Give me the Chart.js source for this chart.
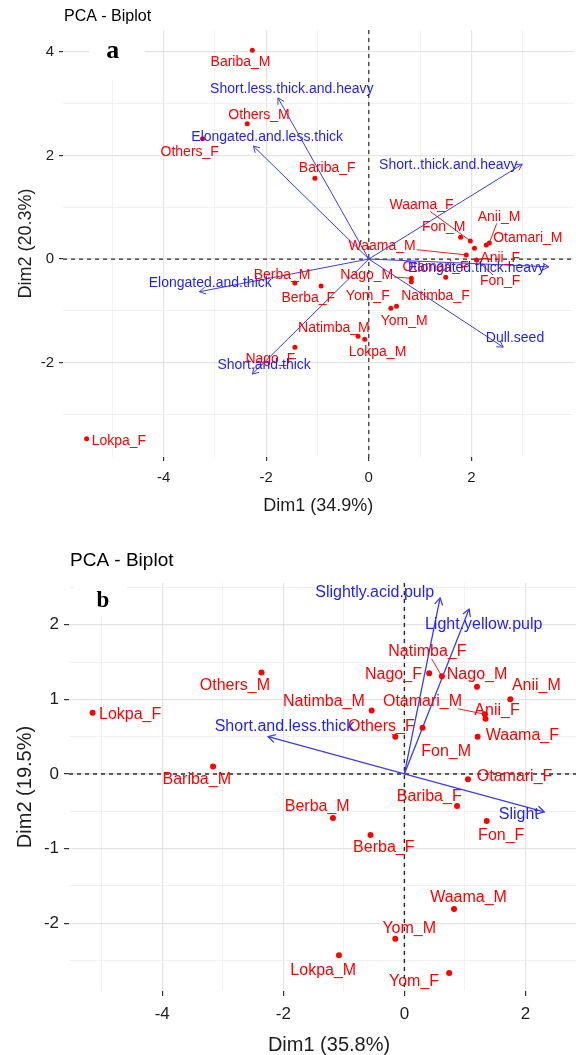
<!DOCTYPE html>
<html>
<head>
<meta charset="utf-8">
<script src="https://cdn.jsdelivr.net/npm/chart.js@4.4.1/dist/chart.umd.min.js"></script>
<style>
  html, body { margin: 0; padding: 0; background: #fff; overflow: hidden; width: 576px; height: 1055px; }
  #ca { position: absolute; left: 0; top: 0; }
  #cb { position: absolute; left: 0; top: 520px; }
</style>
</head>
<body>
<canvas id="ca" width="576" height="520"></canvas>
<canvas id="cb" width="594" height="535"></canvas>
<script>
// ---- panel a : seed traits ----
const indA = ['Bariba_M','Others_M','Others_F','Bariba_F','Waama_F','Fon_M','Anii_M','Otamari_M','Anii_F','Waama_M','Fon_F','Otamari_F','Nago_M','Natimba_F','Berba_M','Berba_F','Yom_F','Yom_M','Natimba_M','Lokpa_M','Nago_F','Lokpa_F'];
const dim1A = [-2.27,-2.37,-3.24,-1.05,1.98,1.79,2.35,2.29,2.06,1.90,2.10,1.50,0.83,0.83,-1.44,-0.93,0.43,0.54,-0.21,-0.08,-1.44,-5.50];
const dim2A = [4.03,2.61,2.32,1.56,0.35,0.42,0.31,0.27,0.21,0.08,-0.02,-0.35,-0.37,-0.44,-0.46,-0.52,-0.95,-0.91,-1.49,-1.55,-1.70,-3.47];
const labXA = [-2.50,-2.14,-3.49,-0.81,1.03,1.46,2.54,3.10,2.56,0.26,2.56,1.30,-0.04,1.30,-1.69,-1.18,-0.02,0.69,-0.68,0.17,-1.92,-4.87];
const labYA = [3.80,2.78,2.07,1.75,1.04,0.62,0.81,0.40,0.02,0.25,-0.43,-0.15,-0.31,-0.71,-0.31,-0.75,-0.71,-1.20,-1.33,-1.80,-1.93,-3.51];
const segA = ['Waama_F','Anii_M','Waama_M','Nago_M','Fon_F'];
const varA = ['Short.less.thick.and.heavy','Elongated.and.less.thick','Short..thick.and.heavy','Elongated.and.thick','Elongated.thick.heavy','Dull.seed','Short.and.thick'];
const varXA = [-1.77,-2.25,2.99,-3.30,3.51,2.62,-2.27];
const varYA = [3.11,2.18,1.83,-0.63,-0.15,-1.70,-2.22];
const varLabXA = [-1.50,-1.98,1.55,-3.09,2.10,2.85,-2.04];
const varLabYA = [3.28,2.36,1.81,-0.46,-0.17,-1.52,-2.05];

// ---- panel b : pulp traits ----
const indB = ['Lokpa_F','Others_M','Bariba_M','Natimba_M','Others_F','Nago_F','Natimba_F','Nago_M','Anii_M','Otamari_M','Anii_F','Waama_F','Fon_M','Otamari_F','Bariba_F','Fon_F','Berba_M','Berba_F','Waama_M','Yom_M','Lokpa_M','Yom_F'];
const dim1B = [-5.15,-2.36,-3.16,-0.54,-0.15,0.41,0.62,1.20,1.75,1.33,1.34,1.21,0.30,1.05,0.87,1.36,-1.18,-0.56,0.82,-0.15,-1.08,0.74];
const dim2B = [0.82,1.36,0.10,0.85,0.50,1.35,1.31,1.17,1.00,0.80,0.74,0.50,0.62,-0.07,-0.43,-0.63,-0.59,-0.82,-1.81,-2.21,-2.43,-2.67];
const labXB = [-4.53,-2.80,-3.43,-1.33,-0.38,-0.18,0.38,1.20,2.18,0.30,1.53,1.95,0.69,1.82,0.41,1.60,-1.44,-0.34,1.06,0.08,-1.34,0.16];
const labYB = [0.80,1.18,-0.08,0.97,0.63,1.33,1.64,1.33,1.18,0.97,0.85,0.51,0.30,-0.03,-0.30,-0.82,-0.44,-0.99,-1.66,-2.07,-2.63,-2.78];
const segB = ['Natimba_F','Otamari_M','Others_F'];
const varB = ['Slightly.acid.pulp','Light.yellow.pulp','Short.and.less.thick','Slight'];
const varXB = [0.59,1.07,-2.25,2.31];
const varYB = [2.36,2.21,0.50,-0.51];
const varLabXB = [-0.49,1.31,-1.98,1.89];
const varLabYB = [2.43,2.00,0.63,-0.55];

const FONT = 'Arial, "Liberation Sans", sans-serif';
const RED = '#ff0000';
const BLUE = '#1f1fff';
const BLUE_LINE = '#3b3bff';
const INK = '#1e1e1e';

const isMajor = (v, step) => Math.abs(v / step - Math.round(v / step)) < 1e-6;

function arrowHead(ctx, x0, y0, x1, y1, len) {
  const ang = Math.atan2(y1 - y0, x1 - x0);
  ctx.beginPath();
  ctx.moveTo(x1 - len * Math.cos(ang - Math.PI / 6), y1 - len * Math.sin(ang - Math.PI / 6));
  ctx.lineTo(x1, y1);
  ctx.lineTo(x1 - len * Math.cos(ang + Math.PI / 6), y1 - len * Math.sin(ang + Math.PI / 6));
  ctx.stroke();
}

function makeBiplot(id, p) {
  const datasets = [{
    data: p.dim1.map((v, i) => ({x: v, y: p.dim2[i]})),
    backgroundColor: RED, borderColor: RED, borderWidth: 0,
    pointRadius: p.dot, pointHoverRadius: p.dot
  }];
  p.vars.forEach((name, i) => datasets.push({
    label: name, showLine: true,
    data: [{x: 0, y: 0}, {x: p.varX[i], y: p.varY[i]}],
    borderColor: BLUE_LINE, borderWidth: p.lw, pointRadius: 0
  }));

  const plugin = {
    id: 'biplot_' + id,
    beforeDatasetsDraw(chart) {
      const {ctx, chartArea: a, scales: {x, y}} = chart;
      ctx.save();
      // white patch behind the panel letter
      const lx = x.getPixelForValue(p.letterAt[0]), ly = y.getPixelForValue(p.letterAt[1]);
      const b = p.letterBox;
      const top = Math.max(a.top, ly + b[1]);
      ctx.fillStyle = '#fff';
      ctx.fillRect(lx + b[0], top, b[2] - b[0], ly + b[3] - top);
      // dashed zero lines
      const x0 = x.getPixelForValue(0), y0 = y.getPixelForValue(0);
      ctx.strokeStyle = '#2a2a2a';
      ctx.lineWidth = p.zeroW;
      ctx.setLineDash([4, 4]);
      ctx.beginPath();
      ctx.moveTo(a.left, y0); ctx.lineTo(a.right, y0);
      ctx.moveTo(x0, a.top); ctx.lineTo(x0, a.bottom);
      ctx.stroke();
      ctx.restore();
    },
    afterDatasetsDraw(chart) {
      const {ctx, chartArea: a, scales: {x, y}} = chart;
      ctx.save();
      // arrow heads
      const x0 = x.getPixelForValue(0), y0 = y.getPixelForValue(0);
      ctx.strokeStyle = BLUE_LINE;
      ctx.lineWidth = p.lw;
      p.vars.forEach((n, i) => arrowHead(ctx, x0, y0, x.getPixelForValue(p.varX[i]), y.getPixelForValue(p.varY[i]), p.head));

      ctx.font = p.labSize + 'px ' + FONT;
      ctx.textAlign = 'center';
      ctx.textBaseline = 'middle';
      // repel segments
      ctx.strokeStyle = RED;
      ctx.lineWidth = 0.9;
      p.ind.forEach((n, i) => {
        if (!p.seg.includes(n)) return;
        const lx = x.getPixelForValue(p.labX[i]), ly = y.getPixelForValue(p.labY[i]);
        const px = x.getPixelForValue(p.dim1[i]), py = y.getPixelForValue(p.dim2[i]);
        const hw = ctx.measureText(n).width / 2 + 1, hh = p.labSize * 0.45;
        const dx = px - lx, dy = py - ly;
        const t = Math.min(dx ? hw / Math.abs(dx) : 1e9, dy ? hh / Math.abs(dy) : 1e9);
        ctx.beginPath();
        ctx.moveTo(lx + dx * t, ly + dy * t);
        ctx.lineTo(px, py);
        ctx.stroke();
      });
      // individual labels
      ctx.fillStyle = RED;
      p.ind.forEach((n, i) => ctx.fillText(n, x.getPixelForValue(p.labX[i]), y.getPixelForValue(p.labY[i])));
      // variable labels
      ctx.fillStyle = BLUE;
      p.vars.forEach((n, i) => ctx.fillText(n, x.getPixelForValue(p.varLabX[i]), y.getPixelForValue(p.varLabY[i])));
      // panel letter
      ctx.fillStyle = '#000';
      ctx.font = 'bold ' + p.letterSize + 'px "Times New Roman", "Liberation Serif", serif';
      ctx.textBaseline = 'alphabetic';
      ctx.fillText(p.letter, x.getPixelForValue(p.letterAt[0]), y.getPixelForValue(p.letterAt[1]));
      ctx.restore();
    },
    afterDraw(chart) {
      const {ctx, chartArea: a} = chart;
      ctx.save();
      ctx.fillStyle = '#000';
      ctx.font = p.mainSize + 'px ' + FONT;
      ctx.textAlign = 'left';
      ctx.textBaseline = 'middle';
      ctx.fillText('PCA - Biplot', a.left + p.mainDx, p.mainY);
      ctx.restore();
    }
  };

  const grid = step => ({
    color: c => c.tick && isMajor(c.tick.value, step) ? '#e4e4e4' : '#eeeeee',
    lineWidth: c => c.tick && isMajor(c.tick.value, step) ? 1.2 : 0.8,
    tickColor: c => c.tick && isMajor(c.tick.value, step) ? '#333' : 'rgba(0,0,0,0)',
    tickLength: p.tickLen,
    drawTicks: true
  });
  const tickFont = {family: FONT, size: p.tickSize};

  return new Chart(document.getElementById(id), {
    type: 'scatter',
    data: {datasets},
    options: {
      responsive: false,
      animation: false,
      events: [],
      layout: {padding: {top: p.padTop, right: p.padRight, left: 0, bottom: 0}},
      plugins: {legend: {display: false}, tooltip: {enabled: false}},
      scales: {
        x: {
          type: 'linear', min: p.xMin, max: p.xMax,
          border: {display: false},
          grid: grid(p.xMajor),
          ticks: {
            stepSize: p.xStep, includeBounds: false, autoSkip: false, maxRotation: 0,
            padding: p.xTickPad, color: INK, font: tickFont,
            callback: v => isMajor(v, p.xMajor) ? String(v) : ''
          },
          title: {display: true, text: p.xTitle, color: INK,
            font: {family: FONT, size: p.axTitleSize, lineHeight: 1},
            padding: {top: 0, bottom: p.xTitlePad}},
          afterFit: s => { s.height = p.xAxisH; }
        },
        y: {
          type: 'linear', min: p.yMin, max: p.yMax,
          border: {display: false},
          grid: grid(p.yMajor),
          ticks: {
            stepSize: p.yStep, includeBounds: false, autoSkip: false,
            padding: p.yTickPad, color: INK, font: tickFont,
            callback: v => isMajor(v, p.yMajor) ? String(v) : ''
          },
          title: {display: true, text: p.yTitle, color: INK,
            font: {family: FONT, size: p.axTitleSize, lineHeight: 1},
            padding: {top: p.yTitlePad, bottom: 0}},
          afterFit: s => { s.width = p.yAxisW; }
        }
      }
    },
    plugins: [plugin]
  });
}

makeBiplot('ca', {
  ind: indA, dim1: dim1A, dim2: dim2A, labX: labXA, labY: labYA, seg: segA,
  vars: varA, varX: varXA, varY: varYA, varLabX: varLabXA, varLabY: varLabYA,
  xTitle: 'Dim1 (34.9%)', yTitle: 'Dim2 (20.3%)',
  xMin: -5.96, xMax: 3.99, xStep: 1, xMajor: 2,
  yMin: -3.82, yMax: 4.42, yStep: 1, yMajor: 2,
  padTop: 30, padRight: 0, yAxisW: 63, xAxisH: 63,
  tickSize: 15, tickLen: 4, xTickPad: 8, yTickPad: 5,
  axTitleSize: 18, xTitlePad: 5, yTitlePad: 17,
  labSize: 14, dot: 2.5, lw: 1, head: 7, zeroW: 1.2,
  letter: 'a', letterAt: [-4.99, 3.88], letterSize: 26, letterBox: [-23, -28, 32, 22],
  mainSize: 16, mainDx: 1, mainY: 17
});

makeBiplot('cb', {
  ind: indB, dim1: dim1B, dim2: dim2B, labX: labXB, labY: labYB, seg: segB,
  vars: varB, varX: varXB, varY: varYB, varLabX: varLabXB, varLabY: varLabYB,
  xTitle: 'Dim1 (35.8%)', yTitle: 'Dim2 (19.5%)',
  xMin: -5.54, xMax: 3.05, xStep: 1, xMajor: 2,
  yMin: -2.91, yMax: 2.56, yStep: 0.5, yMajor: 1,
  padTop: 63, padRight: 1, yAxisW: 69, xAxisH: 64,
  tickSize: 17, tickLen: 5, xTickPad: 8, yTickPad: 5,
  axTitleSize: 20, xTitlePad: 0, yTitlePad: 15,
  labSize: 16, dot: 3, lw: 1.3, head: 8, zeroW: 1.4,
  letter: 'b', letterAt: [-4.98, 2.24], letterSize: 23, letterBox: [-28, -24, 24, 10],
  mainSize: 19, mainDx: 1, mainY: 41
});
</script>
</body>
</html>
